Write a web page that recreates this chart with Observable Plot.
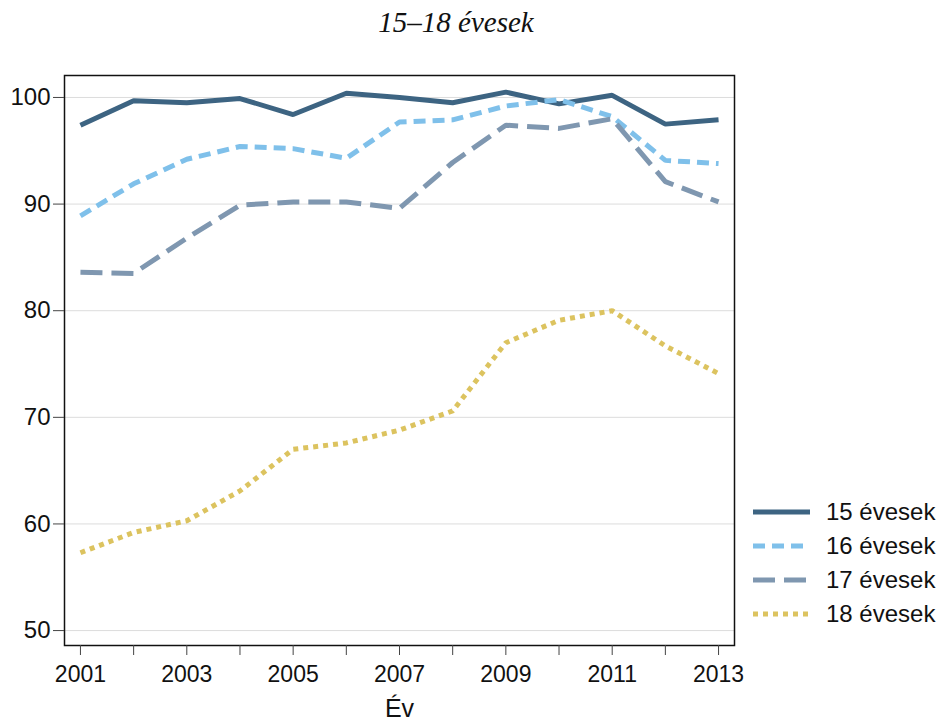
<!DOCTYPE html>
<html>
<head>
<meta charset="utf-8">
<script src="https://cdn.jsdelivr.net/npm/d3@7"></script>
<script src="https://cdn.jsdelivr.net/npm/@observablehq/plot@0.6"></script>
<style>
  body { margin: 0; background: #fff; }
  #wrap { position: relative; width: 942px; height: 722px; font-family: "Liberation Sans", Arial, sans-serif; }
  #title { position: absolute; left: 256px; width: 400px; top: 6px; text-align: center; font-family: "Liberation Serif", "Times New Roman", serif; font-style: italic; font-size: 29px; color: #111; }
  #chart { position: absolute; left: 0; top: 60px; }
  #legend { position: absolute; left: 753px; top: 495px; }
  .row { display: flex; align-items: center; height: 34px; font-size: 24px; color: #111; }
  .row svg { margin-right: 16px; }
</style>
</head>
<body>
<div id="wrap">
  <div id="title">15–18 évesek</div>
  <div id="chart"></div>
  <div id="legend"></div>
</div>
<script>
const years = [2001, 2002, 2003, 2004, 2005, 2006, 2007, 2008, 2009, 2010, 2011, 2012, 2013];
const seriesNames = ["15 évesek", "16 évesek", "17 évesek", "18 évesek"];
const s15 = [97.4, 99.7, 99.5, 99.9, 98.4, 100.4, 100.0, 99.5, 100.5, 99.4, 100.2, 97.5, 97.9];
const s16 = [88.9, 91.9, 94.2, 95.4, 95.2, 94.3, 97.7, 97.9, 99.2, 99.8, 98.2, 94.1, 93.8];
const s17 = [83.6, 83.5, 86.8, 89.9, 90.2, 90.2, 89.6, 93.9, 97.4, 97.1, 98.0, 92.1, 90.2];
const s18 = [57.3, 59.2, 60.3, 63.1, 67.0, 67.6, 68.8, 70.6, 77.0, 79.1, 80.0, 76.7, 74.1];
const yTicks = [50, 60, 70, 80, 90, 100];
const xLabelYears = [2001, 2003, 2005, 2007, 2009, 2011, 2013];

const colors = ["#3d6482", "#7fc0ea", "#7f97b0", "#dcc35f"];
const dashes = [null, "12,7", "22,9", "5,5"];
const values = [s15, s16, s17, s18];

const lineMarks = values.map((vals, i) => Plot.lineY(
  years.map((y, j) => ({year: y, value: vals[j]})),
  {x: "year", y: "value", stroke: colors[i], strokeWidth: 5,
   strokeDasharray: dashes[i] || undefined, strokeLinejoin: "miter", strokeLinecap: "butt"}
));

const chart = Plot.plot({
  width: 942,
  height: 662,
  marginLeft: 64,
  marginRight: 208,
  marginTop: 15,
  marginBottom: 77,
  style: {fontFamily: "Liberation Sans, Arial, sans-serif", fontSize: "23px", color: "#111", background: "#fff"},
  x: {domain: [2000.70, 2013.30]},
  y: {domain: [48.6, 102.06]},
  marks: [
    Plot.gridY(yTicks, {stroke: "#dcdcdc", strokeOpacity: 1, strokeWidth: 1}),
    ...lineMarks,
    Plot.frame({stroke: "#111", strokeWidth: 1.5}),
    Plot.axisY(yTicks, {tickSize: 11, tickPadding: 3, stroke: "#444", label: null, fontSize: 24}),
    Plot.axisX(years, {tickSize: 10, tickPadding: 10, stroke: "#444",
      tickFormat: d => xLabelYears.includes(d) ? String(d) : "", label: null, fontSize: 23}),
    Plot.text(["Év"], {frameAnchor: "bottom", dy: 71, fontSize: 25, fill: "#111"})
  ]
});
document.getElementById("chart").appendChild(chart);

const legend = document.getElementById("legend");
seriesNames.forEach((name, i) => {
  const row = document.createElement("div");
  row.className = "row";
  const sw = `<svg width="57" height="10"><line x1="0" x2="57" y1="5" y2="5" stroke="${colors[i]}" stroke-width="5" ${dashes[i] ? `stroke-dasharray="${dashes[i]}"` : ""}/></svg>`;
  row.innerHTML = sw + `<span>${name}</span>`;
  legend.appendChild(row);
});
</script>
</body>
</html>
